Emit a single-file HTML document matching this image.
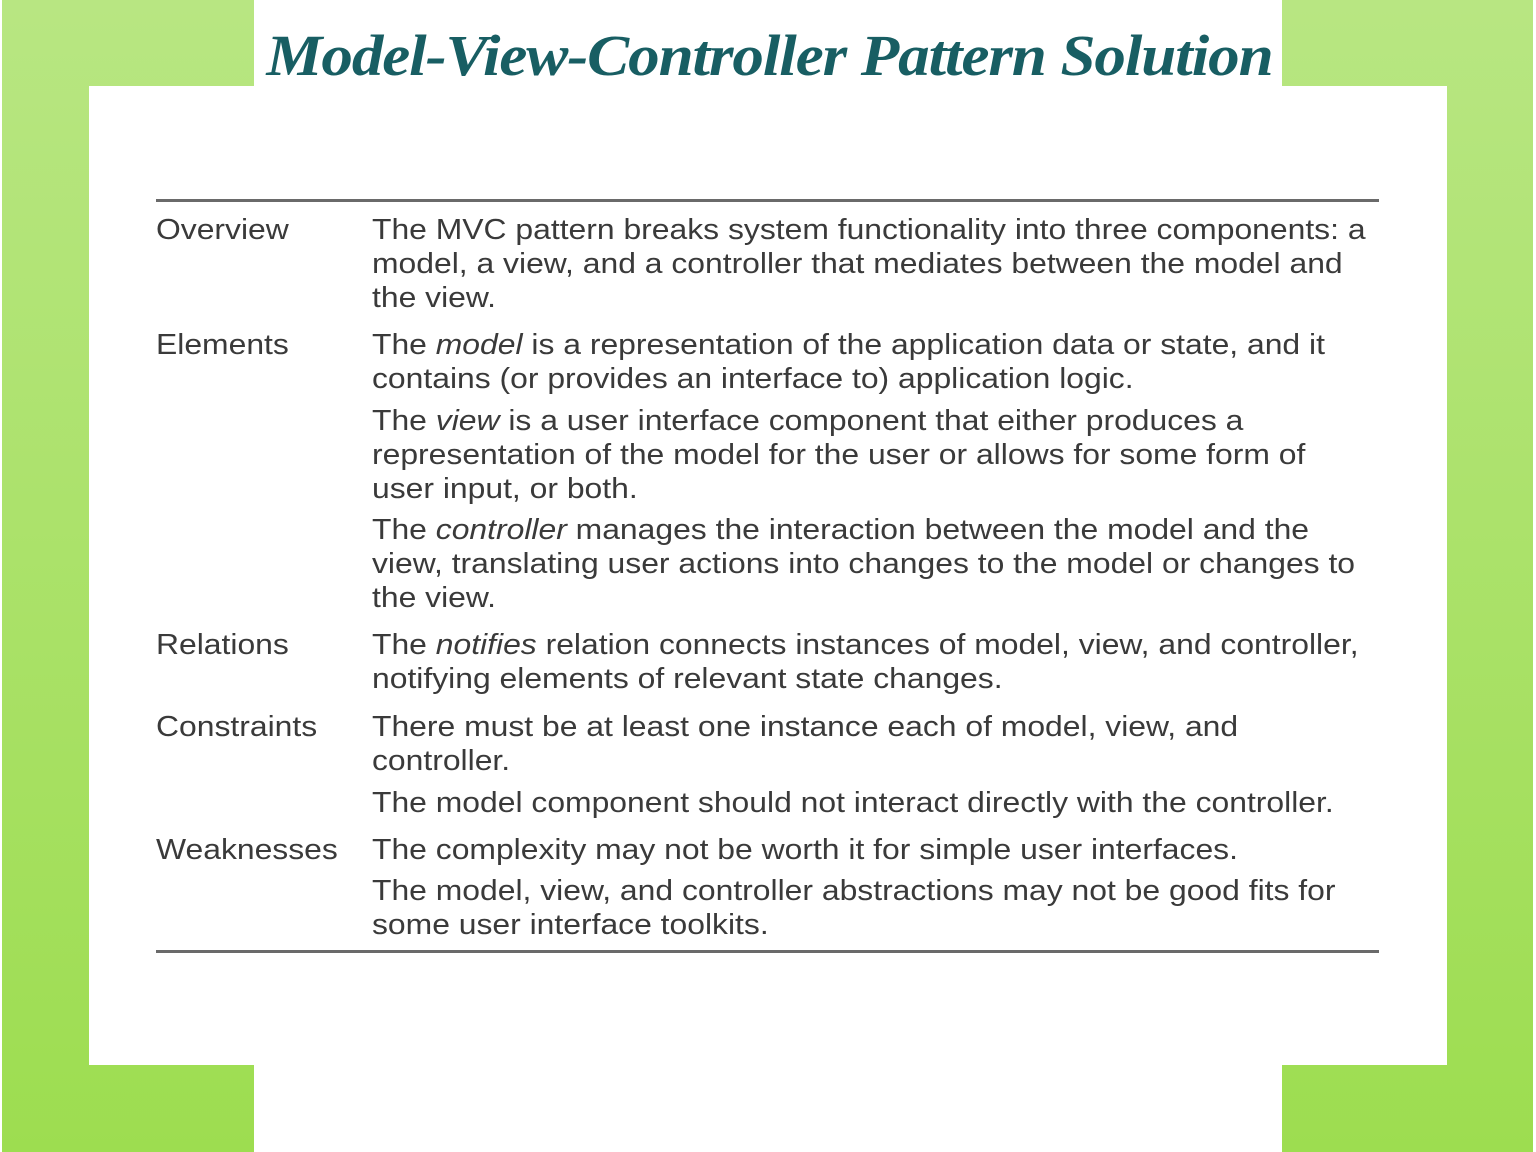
<!DOCTYPE html>
<html><head><meta charset="utf-8"><style>
*{margin:0;padding:0}
body{width:1536px;height:1152px;position:relative;overflow:hidden;background:#fff;font-family:"Liberation Sans",sans-serif}
.g{position:absolute;left:2px;top:0;width:1531px;height:1152px;background:linear-gradient(#b8e682,#9ddd50)}
.w{position:absolute;background:#fff}
.t{position:absolute;font-size:28.5px;color:#3a3a3a;white-space:nowrap;line-height:34px;transform:scaleX(1.118);transform-origin:0 0}
.rule{position:absolute;left:156px;width:1223px;height:3px;background:#6a6a6a}
h1{position:absolute;left:262px;top:22px;width:1015px;text-align:center;font:italic bold 58px "Liberation Serif",serif;color:#185e63;white-space:nowrap;letter-spacing:-1px;transform:scaleX(1.087)}
</style></head><body>
<div class="g"></div>
<div class="w" style="left:254px;top:0;width:1028px;height:86px"></div>
<div class="w" style="left:89px;top:86px;width:1358px;height:979px"></div>
<div class="w" style="left:254px;top:1065px;width:1028px;height:87px"></div>
<h1>Model-View-Controller Pattern Solution</h1>
<div class="rule" style="top:199px"></div>
<div class="rule" style="top:950px"></div>
<div class="t" style="left:156px;top:213px">Overview</div>
<div class="t" style="left:156px;top:328px">Elements</div>
<div class="t" style="left:156px;top:628px">Relations</div>
<div class="t" style="left:156px;top:710px">Constraints</div>
<div class="t" style="left:156px;top:833px">Weaknesses</div>
<div class="t" style="left:372px;top:213px">The MVC pattern breaks system functionality into three components: a</div>
<div class="t" style="left:372px;top:247px">model, a view, and a controller that mediates between the model and</div>
<div class="t" style="left:372px;top:281px">the view.</div>
<div class="t" style="left:372px;top:328px">The <i>model</i> is a representation of the application data or state, and it</div>
<div class="t" style="left:372px;top:362px">contains (or provides an interface to) application logic.</div>
<div class="t" style="left:372px;top:404px">The <i>view</i> is a user interface component that either produces a</div>
<div class="t" style="left:372px;top:438px">representation of the model for the user or allows for some form of</div>
<div class="t" style="left:372px;top:472px">user input, or both.</div>
<div class="t" style="left:372px;top:513px">The <i>controller</i> manages the interaction between the model and the</div>
<div class="t" style="left:372px;top:547px">view, translating user actions into changes to the model or changes to</div>
<div class="t" style="left:372px;top:581px">the view.</div>
<div class="t" style="left:372px;top:628px">The <i>notifies</i> relation connects instances of model, view, and controller,</div>
<div class="t" style="left:372px;top:662px">notifying elements of relevant state changes.</div>
<div class="t" style="left:372px;top:710px">There must be at least one instance each of model, view, and</div>
<div class="t" style="left:372px;top:744px">controller.</div>
<div class="t" style="left:372px;top:786px">The model component should not interact directly with the controller.</div>
<div class="t" style="left:372px;top:833px">The complexity may not be worth it for simple user interfaces.</div>
<div class="t" style="left:372px;top:874px">The model, view, and controller abstractions may not be good fits for</div>
<div class="t" style="left:372px;top:908px">some user interface toolkits.</div>
</body></html>
